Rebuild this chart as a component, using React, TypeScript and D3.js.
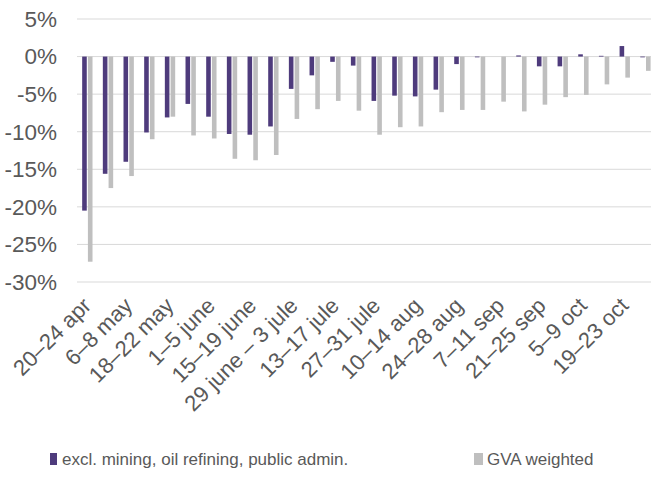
import React from "react";
import * as d3 from "d3";

const categories: string[] = [
  "20–24 apr", "27–30 apr", "6–8 may", "12–15 may", "18–22 may", "25–29 may",
  "1–5 june", "8–11 june", "15–19 june", "22–26 june", "29 june – 3 jule", "6–10 jule",
  "13–17 jule", "20–24 jule", "27–31 jule", "3–7 aug", "10–14 aug", "17–21 aug",
  "24–28 aug", "31 aug – 4 sep", "7–11 sep", "14–18 sep", "21–25 sep", "28 sep – 2 oct",
  "5–9 oct", "12–16 oct", "19–23 oct", "26–30 oct",
];

const exclMining: number[] = [
  -20.5, -15.6, -14.0, -10.1, -8.1, -6.3, -8.0, -10.3, -10.4, -9.3, -4.3, -2.5,
  -0.7, -1.2, -5.9, -5.2, -5.3, -4.4, -1.0, -0.1, 0, 0.15, -1.3, -1.3,
  0.3, 0.1, 1.4, -0.1,
];

const gvaWeighted: number[] = [
  -27.3, -17.5, -15.9, -11.0, -8.0, -10.5, -10.9, -13.6, -13.8, -13.1, -8.3, -7.0,
  -5.9, -7.2, -10.4, -9.4, -9.3, -7.4, -7.1, -7.1, -6.0, -7.3, -6.4, -5.4,
  -5.1, -3.7, -2.8, -1.9,
];

const yTicks: number[] = [5, 0, -5, -10, -15, -20, -25, -30];
const seriesNames: string[] = ["excl. mining, oil refining, public admin.", "GVA weighted"];
const seriesColors: string[] = ["#4e3b7c", "#bfbfbf"];

const W = 651;
const H = 478;
const FONT = "'Liberation Sans', Arial, sans-serif";
const TEXT = "#595959";

export default function App() {
  const left = 77;
  const step = 20.67;
  const x = d3.scaleBand<string>().domain(categories).range([left, left + step * categories.length]).padding(0);
  const y = d3.scaleLinear().domain([-30, 5]).range([282, 19]);
  const groupW = x.bandwidth() * 0.5;
  const x1 = d3.scaleBand<string>().domain(["a", "b"]).range([0, groupW]).paddingInner(0.2).paddingOuter(0);
  const off = (x.bandwidth() - groupW) / 2;
  const series = [exclMining, gvaWeighted];
  const keys = ["a", "b"];

  return (
    <svg width={W} height={H} style={{ position: "absolute", left: 0, top: 0, display: "block" }} fontFamily={FONT}>
      <rect x={0} y={0} width={W} height={H} fill="#fff" />
      {yTicks.map((t) => (
        <g key={t}>
          <line x1={left} x2={W} y1={y(t)} y2={y(t)} stroke="#d9d9d9" strokeWidth={1} />
          <text x={57} y={y(t)} dy="0.35em" textAnchor="end" fontSize={22.5} fill={TEXT}>
            {`${t}%`}
          </text>
        </g>
      ))}
      {series.map((vals, si) =>
        vals.map((v, i) => {
          const cx = (x(categories[i]) as number) + off + (x1(keys[si]) as number);
          const y0 = y(Math.max(0, v));
          const y1 = y(Math.min(0, v));
          return (
            <rect key={`${si}-${i}`} x={cx} y={y0} width={x1.bandwidth()} height={Math.max(0, y1 - y0)} fill={seriesColors[si]} />
          );
        })
      )}
      {categories.map((c, i) =>
        i % 2 === 0 ? (
          <text
            key={c}
            transform={`translate(${(x(c) as number) + x.bandwidth() / 2 + 5},${307}) rotate(-45)`}
            textAnchor="end"
            fontSize={22}
            fill={TEXT}
          >
            {c}
          </text>
        ) : null
      )}
      <g>
        <rect x={50} y={453} width={7} height={12} fill={seriesColors[0]} />
        <text x={62} y={465} fontSize={17} fill={TEXT}>{seriesNames[0]}</text>
        <rect x={474} y={453} width={9} height={12} fill={seriesColors[1]} />
        <text x={487} y={465} fontSize={17} fill={TEXT}>{seriesNames[1]}</text>
      </g>
    </svg>
  );
}
